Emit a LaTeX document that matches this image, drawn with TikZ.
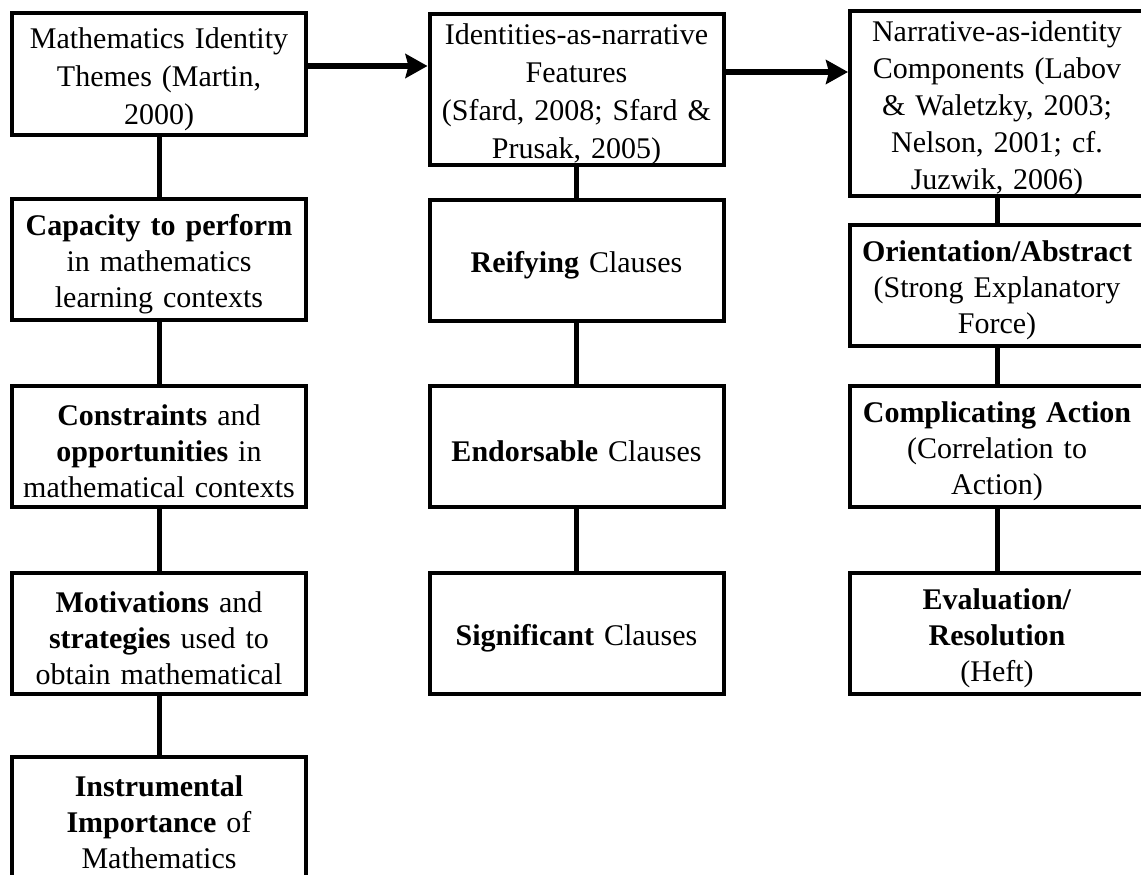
\documentclass[tikz,border=0pt]{standalone}
\usepackage{fontspec}
\setmainfont{Liberation Serif}
\usepackage{tikz}
\usetikzlibrary{arrows.meta}
\tikzstyle{Box}=[draw,line width=4pt,fill=white,text width=280pt,
inner xsep=7pt,inner ysep=0pt,align=center,minimum height=121pt,
font=\fontsize{30}{36}\selectfont,
execute at begin node={\rule{0pt}{31pt}}]
\tikzstyle{Head}=[Box,font=\fontsize{30}{38}\selectfont]
\tikzstyle{Edge}=[draw,line width=5pt]
\tikzstyle{Arrow}=[draw,line width=6pt,
-{Stealth[length=22pt,width=24pt,inset=3pt]}]

\begin{document}
\begin{tikzpicture}[x=1pt,y=1pt]
            \clip(0,0)rectangle(1141,-875);
            \node[Head](L1)at(159,-74)
                {Mathematics Identity\\Themes (Martin,\\2000)};
            \node[Box](L2)at(159,-259.5)
                {\textbf{Capacity to perform}\\in mathematics\\learning contexts};
            \node[Box](L3)at(159,-446)
                {\textbf{Constraints} and\\\textbf{opportunities} in\\mathematical contexts};
            \node[Box](L4)at(159,-633)
                {\textbf{Motivations} and\\\textbf{strategies} used to\\obtain mathematical};
            \node[Box](L5)at(159,-817)
                {\textbf{Instrumental}\\\textbf{Importance} of\\Mathematics};
            \node[Head,minimum height=151pt,execute at begin node={}](M1)at(576.5,-89.5)
                {Identities-as-narrative\\Features\\(Sfard, 2008; Sfard \&\\Prusak, 2005)};
            \node[Box](M2)at(576.5,-260)
                {\textbf{Reifying} Clauses};
            \node[Box](M3)at(576.5,-446.5)
                {\textbf{Endorsable} Clauses};
            \node[Box](M4)at(576.5,-633)
                {\textbf{Significant} Clauses};
            \node[Head,minimum height=181pt,font=\fontsize{30}{37}\selectfont,
                execute at begin node={\rule{0pt}{27pt}}](R1)at(997,-103.5)
                {Narrative-as-identity\\Components (Labov\\\& Waletzky, 2003;\\Nelson, 2001; cf.\\Juzwik, 2006)};
            \node[Box](R2)at(997,-285)
                {\textbf{Orientation/Abstract}\\(Strong Explanatory\\Force)};
            \node[Box](R3)at(997,-446.5)
                {\textbf{Complicating Action}\\(Correlation to\\Action)};
            \node[Box](R4)at(997,-633.5)
                {\textbf{Evaluation/}\\\textbf{Resolution}\\(Heft)};
            \draw[Edge](L1)--(L2);
            \draw[Edge](L2)--(L3);
            \draw[Edge](L3)--(L4);
            \draw[Edge](L4)--(L5);
            \draw[Edge](M1)--(M2);
            \draw[Edge](M2)--(M3);
            \draw[Edge](M3)--(M4);
            \draw[Edge](R1)--(R2);
            \draw[Edge](R2)--(R3);
            \draw[Edge](R3)--(R4);
            \draw[Arrow]([yshift=8pt]L1.east)--([yshift=8pt]L1.east-|M1.west);
            \draw[Arrow]([yshift=17.5pt]M1.east)--([yshift=17.5pt]M1.east-|R1.west);
        \end{tikzpicture}
\end{document}
